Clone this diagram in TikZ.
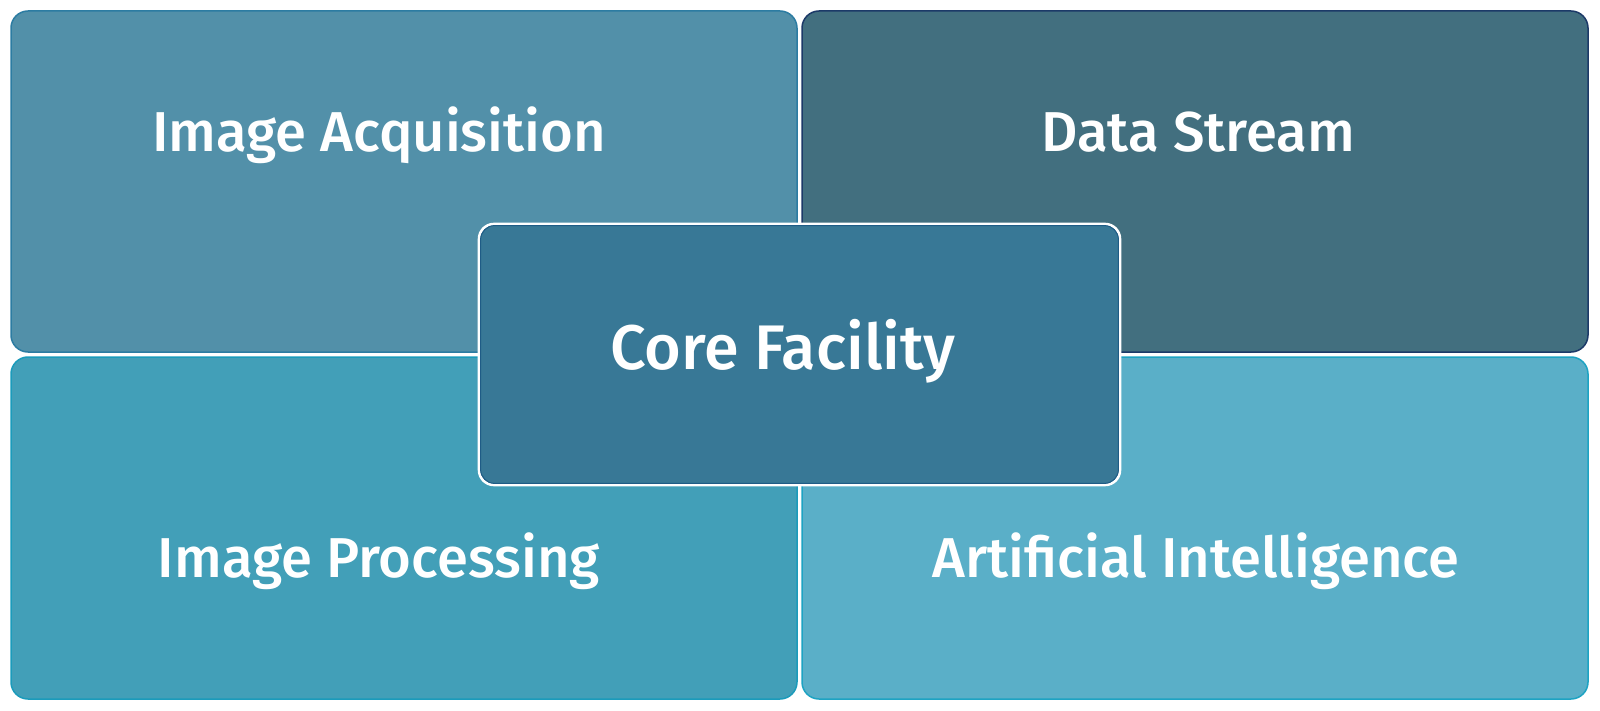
\documentclass[tikz,border=0pt]{standalone}
\usepackage{fontspec}
\setmainfont{Fira Sans}[UprightFont={* Medium}]
\definecolor{cTL}{HTML}{5290A9}
\definecolor{bTL}{HTML}{2C7CA2}
\definecolor{cTR}{HTML}{426F7F}
\definecolor{bTR}{HTML}{1C3A68}
\definecolor{cBL}{HTML}{429FB8}
\definecolor{bBL}{HTML}{1B9BBB}
\definecolor{cBR}{HTML}{5AAFC8}
\definecolor{bBR}{HTML}{1EA3C3}
\definecolor{cC}{HTML}{387896}
\definecolor{bC}{HTML}{1F5C86}
\tikzset{
  quad/.style={rounded corners=8.5pt, line width=0.75pt},
  lbl/.style={text=white, inner sep=0pt, anchor=base, font=\fontsize{28.1}{34}\selectfont},
  clbl/.style={lbl, font=\fontsize{31.5}{36}\selectfont},
}
\begin{document}
\begin{tikzpicture}[x=0.5pt,y=-0.5pt]
\useasboundingbox (0,0) rectangle (1600,711);
\fill[white] (0,0) rectangle (1600,711);
\draw[quad, fill=cTL, draw=bTL] (11,11) rectangle (797,352);
\draw[quad, fill=cTR, draw=bTR] (802,11) rectangle (1588,352);
\draw[quad, fill=cBL, draw=bBL] (11,357) rectangle (797,699);
\draw[quad, fill=cBR, draw=bBR] (802,357) rectangle (1588,699);
\draw[rounded corners=7.5pt, line width=1.3pt, draw=white, fill=cC] (479,224) rectangle (1120,485);
\draw[rounded corners=7pt, line width=0.5pt, draw=bC] (480.6,225.6) rectangle (1118.4,483.4);
\node[lbl] (ia) at (379,152) {Image Acquisition};
\node[lbl] (ds) at (1198,152) {Data Stream};
\node[clbl] (cf) at (783,369) {Core Facility};
\node[lbl] (ip) at (379,577) {Image Processing};
\node[lbl] (ai) at (1196,577) {Artificial Intelligence};
\end{tikzpicture}
\end{document}
